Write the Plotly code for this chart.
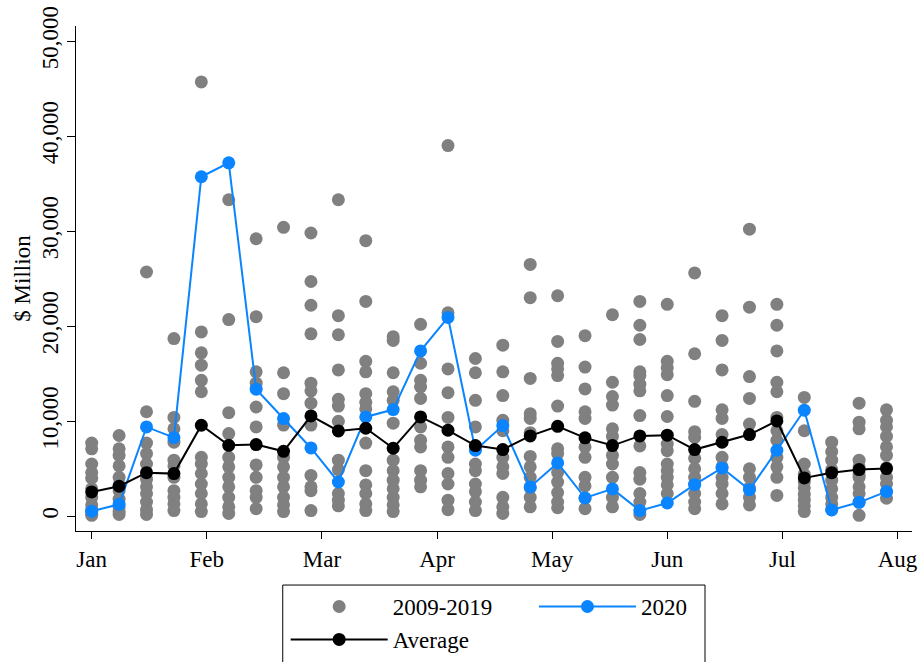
import plotly.graph_objects as go

# Weekly values, first week of January through the end of July
weeks = list(range(30))
month_labels = ["Jan", "Feb", "Mar", "Apr", "May", "Jun", "Jul", "Aug"]

# 2009-2019: one list of weekly observations per week
hist_values = [
    [7700, 7100, 5500, 4600, 4000, 2900, 2000, 1200, 700, 300, 100],
    [8500, 7100, 6400, 5300, 4100, 3300, 2700, 1800, 1000, 500, 200],
    [25700, 11000, 7700, 6600, 5500, 3900, 3100, 2400, 1500, 700, 200],
    [18700, 10400, 9200, 7800, 5900, 5300, 4100, 2700, 2000, 1300, 600],
    [45700, 19400, 17200, 15900, 14300, 13100, 6200, 5500, 4500, 3400, 2400, 1300, 500],
    [33300, 20700, 10900, 8700, 6200, 5200, 4100, 3100, 2000, 1000, 300],
    [29200, 21000, 15200, 14000, 11500, 9400, 5400, 4100, 2700, 2000, 800],
    [30400, 15100, 12900, 9600, 6200, 5200, 4100, 3100, 2000, 1200, 500],
    [29800, 24700, 22200, 19200, 14000, 13200, 11900, 9600, 4300, 3100, 2700, 600],
    [33300, 21100, 19100, 15400, 12300, 11600, 10000, 5900, 4900, 2400, 1700, 1100],
    [29000, 22600, 16300, 15200, 12900, 12000, 11300, 7700, 4800, 3300, 2400, 1300, 600],
    [18900, 18500, 15100, 13100, 12200, 9800, 5900, 4800, 3800, 2900, 2000, 1200, 500],
    [20200, 16100, 14300, 13600, 12400, 9400, 8000, 7300, 4800, 3800, 3100],
    [39000, 21400, 15500, 13000, 10400, 7300, 6200, 4500, 3400, 1700, 700],
    [16600, 15100, 12200, 9400, 7300, 5500, 4800, 3400, 2600, 1500, 600],
    [18000, 15200, 12700, 10100, 9000, 6200, 5200, 4500, 2000, 1000, 300],
    [26500, 23000, 14500, 10800, 10300, 8800, 6300, 5200, 4100, 3000, 2000, 1000],
    [23200, 18400, 16100, 15500, 14800, 11600, 7100, 6600, 4600, 3600, 2500, 1500, 900],
    [19000, 15700, 13400, 11000, 10300, 7300, 6200, 4100, 3200, 1900, 800],
    [21200, 14100, 12600, 11700, 9200, 8400, 6400, 5500, 4100, 2000, 1000],
    [22600, 20100, 18600, 15200, 14800, 13900, 13200, 10600, 7400, 4600, 3900, 2400, 1500, 200],
    [22300, 16300, 15600, 14900, 12700, 10500, 7600, 6900, 5500, 4800, 4100, 3300, 2400],
    [25600, 17100, 12100, 8900, 8300, 6100, 5000, 4100, 3400, 2400, 1500, 800],
    [21100, 18500, 15400, 11200, 10300, 8600, 6200, 5200, 4100, 3400, 2400, 1300],
    [30200, 22000, 14700, 12400, 9700, 5000, 4100, 3000, 2000, 1200],
    [22300, 20100, 17400, 14100, 13100, 10400, 9000, 8000, 6200, 5200, 4100, 2200],
    [12500, 9000, 5500, 4400, 3600, 3000, 2300, 1700, 1100, 500],
    [7800, 6800, 5900, 4900, 3800, 2900, 2000, 1300, 700],
    [11900, 9900, 9200, 5900, 5200, 4400, 4100, 3100, 2400, 1500, 100],
    [11200, 10100, 9400, 8400, 7300, 6400, 5100, 4100, 3400, 2600, 1900],
]

values_2020 = [
    530, 1260, 9400, 8280, 35720, 37190, 13370, 10280, 7190, 3610,
    10450, 11230, 17400, 20920, 6950, 9540, 3090, 5610, 1930, 2880,
    600, 1400, 3330, 5090, 2800, 6950, 11160, 670, 1470, 2600,
]

average = [
    2560, 3160, 4590, 4490, 9580, 7470, 7540, 6840, 10560, 8980,
    9260, 7160, 10450, 9050, 7440, 7020, 8460, 9470, 8250, 7440,
    8460, 8530, 7020, 7790, 8600, 10030, 4040, 4590, 4910, 5020,
]

hist_x = [w for w, vals in zip(weeks, hist_values) for _ in vals]
hist_y = [v for vals in hist_values for v in vals]

GRAY = "#808080"
BLUE = "#0a85ff"
FONT = "Liberation Serif"

fig = go.Figure()

fig.add_trace(go.Scatter(
    x=hist_x, y=hist_y, mode="markers", name="2009-2019",
    legend="legend",
    marker=dict(color=GRAY, size=13, line=dict(width=0)),
))
fig.add_trace(go.Scatter(
    x=weeks, y=values_2020, mode="lines+markers", name="2020",
    legend="legend2",
    line=dict(color=BLUE, width=2),
    marker=dict(color=BLUE, size=13, line=dict(width=0)),
))
fig.add_trace(go.Scatter(
    x=weeks, y=average, mode="lines+markers", name="Average",
    legend="legend",
    line=dict(color="black", width=2),
    marker=dict(color="black", size=13, line=dict(width=0)),
))

month_step = 4.2
fig.update_xaxes(
    range=[-0.573, 29.93],
    tickvals=[i * month_step for i in range(len(month_labels))],
    ticktext=month_labels,
    showline=True, linecolor="black", linewidth=1.3,
    ticks="outside", ticklen=7, tickwidth=1.3, tickcolor="black",
    showgrid=False, zeroline=False,
    tickfont=dict(size=23, color="black", family=FONT),
)
fig.update_yaxes(
    range=[-1547, 51579],
    tickvals=[0, 10000, 20000, 30000, 40000, 50000],
    tickformat=",",
    tickangle=-90,
    showline=True, linecolor="black", linewidth=1.3,
    ticks="outside", ticklen=8, tickwidth=1.3, tickcolor="black",
    showgrid=False, zeroline=False,
    tickfont=dict(size=23, color="black", family=FONT),
    title=dict(text="$ Million", font=dict(size=23, color="black", family=FONT), standoff=0),
)

legend_common = dict(
    orientation="v", y=-0.107, yanchor="top", xanchor="left",
    borderwidth=0, bgcolor="rgba(0,0,0,0)",
    itemwidth=97, tracegroupgap=0,
    font=dict(size=23, family=FONT, color="black"),
)

fig.update_layout(
    width=923, height=662,
    margin=dict(l=76, r=11, t=26, b=131, autoexpand=False),
    paper_bgcolor="white", plot_bgcolor="white",
    font=dict(family=FONT, size=23, color="black"),
    legend=dict(x=0.2508, **legend_common),
    legend2=dict(x=0.5478, **legend_common),
    shapes=[dict(
        type="rect", xref="paper", yref="paper",
        x0=0.2473, x1=0.7524, y0=-0.107, y1=-0.27,
        line=dict(color="black", width=1), fillcolor="rgba(0,0,0,0)",
        layer="above",
    )],
)

fig.write_html("out.html")
